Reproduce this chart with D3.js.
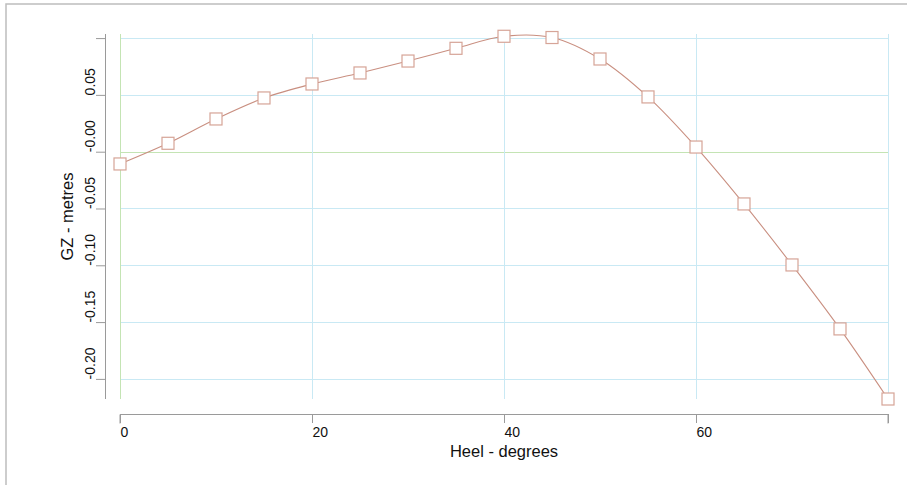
<!DOCTYPE html>
<html>
<head>
<meta charset="utf-8">
<script src="https://cdn.jsdelivr.net/npm/d3@7/dist/d3.min.js"></script>
<style>
  html, body { margin: 0; padding: 0; background: #fff; }
  svg { display: block; font-family: "Liberation Sans", Arial, sans-serif; }
</style>
</head>
<body>
<svg id="chart" width="907" height="485"></svg>
<script>
// ---- data ----
const heel = [0, 5, 10, 15, 20, 25, 30, 35, 40, 45, 50, 55, 60, 65, 70, 75, 80];
const gz = [-0.0108, 0.0074, 0.0288, 0.0473, 0.0596, 0.0693, 0.0798, 0.0910, 0.1016,
            0.1005, 0.0816, 0.0482, 0.0041, -0.0460, -0.0997, -0.1560, -0.2177];
const xTicks = [0, 20, 40, 60, 80];
const xTickLabels = ["0", "20", "40", "60", ""];
const yTicks = [0.10, 0.05, 0.00, -0.05, -0.10, -0.15, -0.20];
const yTickLabels = ["", "0.05", "-0.00", "-0.05", "-0.10", "-0.15", "-0.20"];
const xTitle = "Heel - degrees";
const yTitle = "GZ - metres";

// ---- layout ----
const svg = d3.select("#chart");
const plot = { left: 120, right: 888, top: 34, bottom: 399 };
const x = d3.scaleLinear().domain([0, 80]).range([plot.left, plot.right]);
const y = d3.scaleLinear().domain([-0.2177, 0.1036]).range([plot.bottom, plot.top]);

const gridBlue = "#c9e9f4";
const gridGreen = "#c4e4b4";
const axisGrey = "#9a9a9a";
const lineCol = "#c98f80";
const markCol = "#d6a497";

// outer frame
svg.append("rect")
  .attr("x", 6).attr("y", 4).attr("width", 1000).attr("height", 1000)
  .attr("fill", "none").attr("stroke", "#bdbdbd").attr("stroke-width", 1.5);

// gridlines
const g = svg.append("g");
g.selectAll("line.hg").data(yTicks).join("line")
  .attr("x1", plot.left).attr("x2", plot.right)
  .attr("y1", d => Math.round(y(d)) + 0.5).attr("y2", d => Math.round(y(d)) + 0.5)
  .attr("stroke", d => d === 0 ? gridGreen : gridBlue).attr("stroke-width", 1);
g.selectAll("line.vg").data(xTicks).join("line")
  .attr("x1", d => Math.round(x(d)) + 0.5).attr("x2", d => Math.round(x(d)) + 0.5)
  .attr("y1", plot.top).attr("y2", plot.bottom)
  .attr("stroke", d => d === 0 ? gridGreen : gridBlue).attr("stroke-width", 1);

// x axis
const xAxis = d3.axisBottom(x).tickValues(xTicks).tickSize(9).tickPadding(4)
  .tickFormat((d, i) => xTickLabels[i]);
const xg = svg.append("g").attr("transform", `translate(0,${plot.bottom + 15})`).call(xAxis);
xg.select(".domain").attr("stroke", axisGrey).attr("d", `M${plot.left},9.5V0.5H${plot.right}V9.5`);
xg.selectAll(".tick line").attr("stroke", axisGrey);
xg.selectAll(".tick text").attr("text-anchor", "start").attr("font-size", 14)
  .attr("fill", "#111").attr("font-family", "Liberation Sans, Arial, sans-serif");

// y axis
const yAxis = d3.axisLeft(y).tickValues(yTicks).tickSize(9).tickPadding(0)
  .tickFormat((d, i) => yTickLabels[i]);
const yg = svg.append("g").attr("transform", `translate(${plot.left - 15},0)`).call(yAxis);
yg.select(".domain").attr("stroke", axisGrey).attr("d", `M-9,${plot.top}H0.5V${plot.bottom}H-9`)
  .attr("d", `M0.5,${plot.top}V${plot.bottom}`);
yg.selectAll(".tick line").attr("stroke", axisGrey);
yg.selectAll(".tick text")
  .attr("x", null).attr("dy", null)
  .attr("text-anchor", "start")
  .attr("transform", "translate(-10,0) rotate(-90)")
  .attr("font-size", 14).attr("fill", "#111")
  .attr("font-family", "Liberation Sans, Arial, sans-serif");

// titles
svg.append("text").attr("x", (plot.left + plot.right) / 2).attr("y", 457)
  .attr("text-anchor", "middle").attr("font-size", 16.5).attr("fill", "#111")
  .text(xTitle);
svg.append("text")
  .attr("transform", `translate(73,${(plot.top + plot.bottom) / 2}) rotate(-90)`)
  .attr("text-anchor", "middle").attr("font-size", 16.5).attr("fill", "#111")
  .text(yTitle);

// curve
const pts = heel.map((h, i) => [h, gz[i]]);
const line = d3.line().x(d => x(d[0])).y(d => y(d[1])).curve(d3.curveCatmullRom.alpha(0.5));
svg.append("path").datum(pts).attr("d", line)
  .attr("fill", "none").attr("stroke", lineCol).attr("stroke-width", 1.1);

// markers
const ms = 12;
svg.selectAll("rect.mk").data(pts).join("rect")
  .attr("x", d => x(d[0]) - ms / 2).attr("y", d => y(d[1]) - ms / 2)
  .attr("width", ms).attr("height", ms)
  .attr("fill", "#fff").attr("stroke", markCol).attr("stroke-width", 1.2);
</script>
</body>
</html>
